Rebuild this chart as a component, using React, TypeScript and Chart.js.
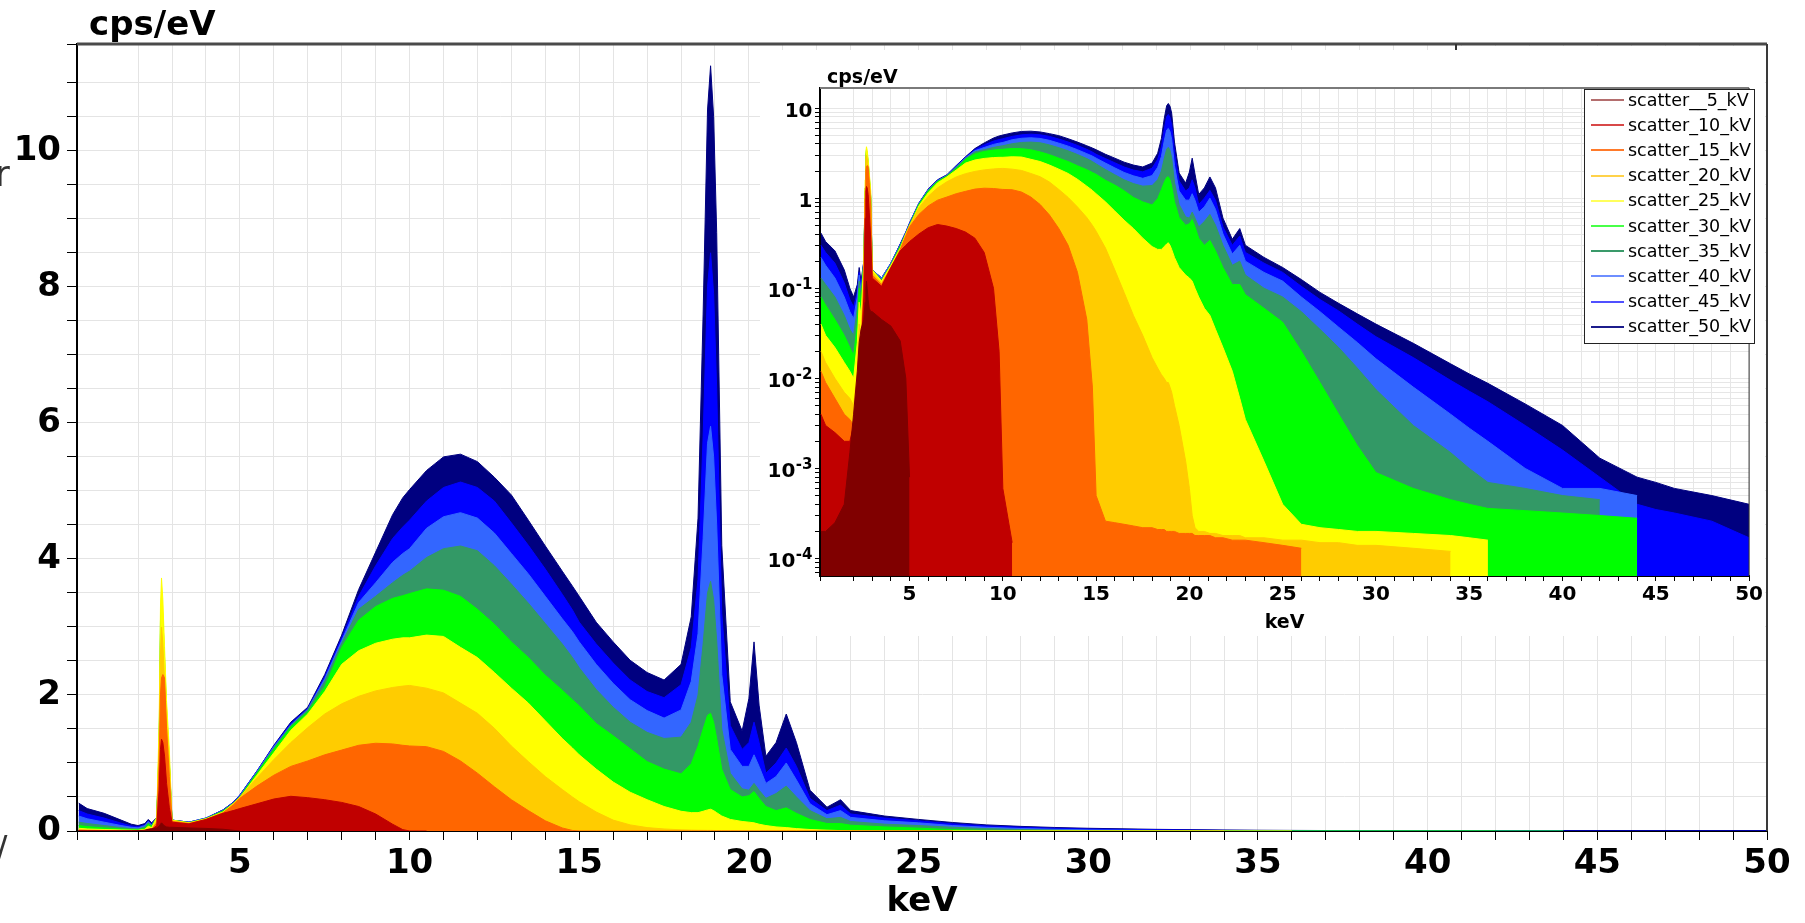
import React, { useEffect, useRef } from "react";
import { Chart, registerables } from "chart.js";

Chart.register(...registerables);

// ---------------- DATA ----------------
const energyKeV = [
  0.25, 0.5, 1.0, 1.5, 1.8, 2.0, 2.2, 2.3, 2.4,
  2.55, 2.62, 2.66, 2.69, 2.73, 2.78, 2.84, 2.92, 3.0,
  3.5, 4.0, 4.5, 4.8, 5.0, 5.5, 6.0, 6.5, 7.0, 7.5, 8.0, 8.5, 9.0, 9.5, 9.8, 10.0,
  10.5, 11.0, 11.5, 12.0, 12.5, 13.0, 13.5, 14.0, 14.5, 14.8, 15.0, 15.5, 16.0, 16.5, 17.0, 17.5,
  18.0, 18.3, 18.5, 18.65, 18.78, 18.87, 18.96, 19.05, 19.2, 19.45, 19.8, 20.0, 20.15, 20.3, 20.5, 20.8,
  21.1, 21.4, 21.8, 22.3, 22.7, 23.0, 24.0, 25.0, 26.0, 27.0, 28.0, 29.0, 30.0, 32.0, 34.0, 35.0,
  36.0, 38.0, 40.0, 42.0, 44.0, 45.0, 46.0, 48.0, 50.0,
];

const scatter50kV = [
  0.41, 0.33, 0.26, 0.16, 0.10, 0.08, 0.11, 0.17, 0.12,
  0.2, 1.0, 2.3, 2.7, 2.45, 1.95, 1.35, 0.8, 0.16,
  0.13, 0.19, 0.31, 0.42, 0.53, 0.88, 1.26, 1.6, 1.82, 2.3, 2.88, 3.55, 4.1, 4.65, 4.9, 5.02,
  5.3, 5.5, 5.54, 5.43, 5.2, 4.94, 4.57, 4.19, 3.82, 3.6, 3.45, 3.07, 2.78, 2.51, 2.33, 2.22,
  2.45, 3.15, 4.6, 7.6, 10.6, 11.25, 10.5, 8.8, 4.2, 1.9, 1.47, 1.95, 2.78, 1.85, 1.1, 1.3,
  1.72, 1.3, 0.6, 0.35, 0.46, 0.3, 0.22, 0.17, 0.125, 0.09, 0.068, 0.052, 0.04, 0.0245, 0.0145, 0.0112,
  0.0088, 0.0052, 0.003, 0.0013, 0.0008, 0.0007, 0.0006, 0.0005, 0.0004,
];

const scatter45kV = [
  0.30, 0.25, 0.19, 0.115, 0.075, 0.062, 0.09, 0.15, 0.1,
  0.2, 1.1, 2.6, 3.0, 2.8, 2.2, 1.5, 0.9, 0.16,
  0.13, 0.19, 0.31, 0.42, 0.53, 0.88, 1.25, 1.58, 1.8, 2.27, 2.84, 3.45, 3.9, 4.3, 4.47, 4.57,
  4.85, 5.05, 5.13, 5.05, 4.85, 4.53, 4.2, 3.85, 3.48, 3.25, 3.07, 2.75, 2.47, 2.22, 2.05, 1.96,
  2.15, 2.7, 3.7, 5.8, 8.0, 8.5, 7.9, 6.5, 3.2, 1.55, 1.2, 1.3, 1.6, 1.3, 0.85, 1.0,
  1.22, 0.95, 0.48, 0.3, 0.38, 0.25, 0.19, 0.15, 0.105, 0.075, 0.056, 0.04, 0.029, 0.017, 0.0095, 0.0072,
  0.0055, 0.003, 0.0016, 0.0008, 0.0004, 0.00035, 0.00032, 0.00026, 0.00017,
];

const scatter40kV = [
  0.22, 0.18, 0.13, 0.08, 0.055, 0.046, 0.08, 0.14, 0.09,
  0.2, 1.15, 2.8, 3.15, 2.9, 2.35, 1.6, 0.95, 0.16,
  0.13, 0.19, 0.3, 0.41, 0.52, 0.87, 1.24, 1.56, 1.79, 2.24, 2.8, 3.36, 3.65, 3.95, 4.08, 4.15,
  4.45, 4.62, 4.68, 4.6, 4.38, 4.08, 3.78, 3.45, 3.12, 2.93, 2.78, 2.45, 2.17, 1.93, 1.77, 1.66,
  1.78, 2.2, 2.9, 4.3, 5.7, 5.95, 5.5, 4.5, 2.3, 1.2, 0.95, 0.95, 1.12, 0.95, 0.7, 0.8,
  1.0, 0.75, 0.4, 0.24, 0.3, 0.2, 0.15, 0.12, 0.08, 0.055, 0.037, 0.025, 0.0165, 0.008, 0.004, 0.0028,
  0.002, 0.001, 0.0006, 0.0006, 0.0005,
];

const scatter35kV = [
  0.13, 0.11, 0.08, 0.05, 0.035, 0.03, 0.06, 0.12, 0.08,
  0.2, 1.2, 2.9, 3.3, 3.0, 2.45, 1.7, 1.0, 0.16,
  0.125, 0.185, 0.3, 0.41, 0.51, 0.86, 1.22, 1.55, 1.78, 2.2, 2.76, 3.26, 3.45, 3.65, 3.76, 3.82,
  4.02, 4.15, 4.19, 4.12, 3.9, 3.63, 3.35, 3.05, 2.75, 2.55, 2.4, 2.08, 1.82, 1.6, 1.45, 1.36,
  1.38, 1.6, 2.0, 2.75, 3.5, 3.67, 3.4, 2.8, 1.5, 0.85, 0.62, 0.6, 0.7, 0.6, 0.48, 0.55,
  0.66, 0.5, 0.3, 0.18, 0.2, 0.14, 0.1, 0.08, 0.055, 0.035, 0.022, 0.013, 0.0075, 0.003, 0.0015, 0.001,
  0.0007, 0.0006, 0.0005, 0.00045,
];

const scatter30kV = [
  0.08, 0.065, 0.045, 0.03, 0.022, 0.018, 0.04, 0.1, 0.07,
  0.2, 1.3, 3.1, 3.45, 3.15, 2.55, 1.8, 1.05, 0.16,
  0.12, 0.18, 0.29, 0.4, 0.5, 0.85, 1.2, 1.53, 1.75, 2.12, 2.7, 3.1, 3.3, 3.42, 3.46, 3.49,
  3.56, 3.54, 3.45, 3.26, 3.04, 2.78, 2.55, 2.29, 2.07, 1.93, 1.84, 1.58, 1.4, 1.21, 1.02, 0.91,
  0.84, 0.99, 1.25, 1.5, 1.7, 1.73, 1.6, 1.36, 0.91, 0.61, 0.5, 0.52, 0.58, 0.48, 0.36, 0.3,
  0.34, 0.26, 0.17, 0.11, 0.11, 0.085, 0.06, 0.042, 0.02, 0.009, 0.004, 0.0018, 0.0009, 0.0006, 0.00045, 0.0004,
  0.00036, 0.00034, 0.00032, 0.0003, 0.00028,
];

const scatter25kV = [
  0.04, 0.03, 0.022, 0.015, 0.012, 0.01, 0.025, 0.07, 0.05,
  0.2, 1.6, 3.3, 3.72, 3.4, 2.7, 1.9, 1.2, 0.16,
  0.12, 0.18, 0.28, 0.4, 0.49, 0.82, 1.15, 1.48, 1.72, 2.05, 2.45, 2.65, 2.76, 2.82, 2.84, 2.84,
  2.88, 2.86, 2.7, 2.55, 2.33, 2.1, 1.88, 1.62, 1.36, 1.22, 1.12, 0.91, 0.72, 0.57, 0.46, 0.36,
  0.29, 0.27, 0.27, 0.29, 0.31, 0.32, 0.3, 0.27, 0.22, 0.17, 0.14, 0.13, 0.12, 0.1, 0.08, 0.06,
  0.05, 0.035, 0.022, 0.012, 0.006, 0.0035, 0.0012, 0.0004, 0.00024, 0.00022, 0.00021, 0.0002, 0.0002, 0.00019, 0.00018, 0.00017,
  0.00016,
];

const scatter20kV = [
  0.02, 0.015, 0.01, 0.007, 0.006, 0.005, 0.012, 0.04, 0.03,
  0.15, 1.3, 2.6, 3.0, 2.75, 2.2, 1.6, 1.0, 0.15,
  0.115, 0.17, 0.26, 0.4, 0.5, 0.78, 1.05, 1.3, 1.52, 1.72, 1.87, 1.98, 2.06, 2.11, 2.13, 2.14,
  2.1, 2.03, 1.88, 1.73, 1.51, 1.25, 1.02, 0.8, 0.61, 0.5, 0.43, 0.28, 0.16, 0.09, 0.05, 0.03,
  0.017, 0.013, 0.011, 0.01, 0.009, 0.009, 0.008, 0.007, 0.005, 0.003, 0.0012, 0.0006, 0.0003, 0.00022, 0.0002, 0.0002,
  0.00019, 0.00019, 0.00018, 0.00018, 0.00018, 0.00017, 0.00017, 0.00016, 0.00016, 0.00015, 0.00015, 0.00014, 0.00014, 0.00013, 0.00012,
];

const scatter15kV = [
  0.012, 0.009, 0.006, 0.004, 0.0035, 0.003, 0.006, 0.02, 0.02,
  0.12, 1.0, 2.0, 2.25, 2.3, 2.25, 1.5, 0.8, 0.14,
  0.11, 0.17, 0.27, 0.38, 0.48, 0.66, 0.82, 0.95, 1.03, 1.12, 1.19, 1.26, 1.29, 1.28, 1.26, 1.25,
  1.24, 1.17, 1.03, 0.85, 0.65, 0.46, 0.3, 0.15, 0.045, 0.008, 0.0005, 0.00026, 0.00025, 0.00024, 0.00023, 0.00022,
  0.00022, 0.00021, 0.00021, 0.00021, 0.0002, 0.0002, 0.0002, 0.0002, 0.0002, 0.00019, 0.00019, 0.00019, 0.00019, 0.00018, 0.00018, 0.00018,
  0.00018, 0.00017, 0.00017, 0.00016, 0.00016, 0.00016, 0.00015, 0.00014, 0.00013,
];

const scatter10kV = [
  0.004, 0.003, 0.0025, 0.002, 0.002, 0.003, 0.008, 0.015, 0.02,
  0.08, 0.6, 1.2, 1.35, 1.3, 1.1, 0.7, 0.35, 0.13,
  0.105, 0.17, 0.26, 0.3, 0.33, 0.4, 0.47, 0.51, 0.49, 0.46, 0.42, 0.36, 0.25, 0.1, 0.02, 0.0006,
  0.00015,
];

const scatter5kV = [
  0.0002, 0.0002, 0.00025, 0.0004, 0.0015, 0.004, 0.012, 0.025, 0.035,
  0.045, 0.07, 0.1, 0.12, 0.1, 0.075, 0.06, 0.055, 0.055,
  0.045, 0.038, 0.026, 0.01, 0.0008,
];

const seriesValues = [
  scatter5kV, scatter10kV, scatter15kV, scatter20kV, scatter25kV,
  scatter30kV, scatter35kV, scatter40kV, scatter45kV, scatter50kV,
];
const seriesLabels = [
  "scatter__5_kV", "scatter_10_kV", "scatter_15_kV", "scatter_20_kV", "scatter_25_kV",
  "scatter_30_kV", "scatter_35_kV", "scatter_40_kV", "scatter_45_kV", "scatter_50_kV",
];
const seriesColors = [
  "#800000", "#C00000", "#FF6600", "#FFCC00", "#FFFF00",
  "#00FF00", "#339966", "#3366FF", "#0000FF", "#000080",
];
const legendLineColors = [
  "#b46e6e", "#d84848", "#ff7a2a", "#ffd24a", "#ffff5c",
  "#48ff48", "#3a9a6a", "#6e8eff", "#5050ff", "#1c1c8c",
];

const mainYLabelled = [0, 2, 4, 6, 8, 10];
const xLabelled = [5, 10, 15, 20, 25, 30, 35, 40, 45, 50];
const insetDecadeValues = [10, 1, 0.1, 0.01, 0.001, 0.0001];
const insetDecadeBase = ["10", "1", "10", "10", "10", "10"];
const insetDecadeExp = ["", "", "-1", "-2", "-3", "-4"];
const unitText = "cps/eV";
const axisText = "keV";

const FONT = "'DejaVu Sans', Verdana, sans-serif";

// ---------------- helpers / plugins ----------------
function makeDatasets(forLog: boolean) {
  return seriesValues.map((vals, i) => ({
    label: seriesLabels[i],
    data: vals.map((y, j) => ({ x: energyKeV[j], y })),
    borderColor: seriesColors[i],
    backgroundColor: seriesColors[i],
    borderWidth: 1,
    pointRadius: 0,
    tension: 0,
    fill: forLog ? "start" : "origin",
  }));
}

const framePlugin = {
  id: "frame",
  afterDraw(chart: any, _args: any, opts: any) {
    const { ctx, chartArea: a } = chart;
    ctx.save();
    ctx.strokeStyle = opts.color;
    ctx.lineWidth = opts.width;
    ctx.beginPath();
    ctx.moveTo(a.left, a.top);
    ctx.lineTo(a.right, a.top);
    ctx.stroke();
    ctx.strokeStyle = opts.rightColor || opts.color;
    ctx.lineWidth = opts.rightWidth || opts.width;
    ctx.beginPath();
    ctx.moveTo(a.right, a.top);
    ctx.lineTo(a.right, a.bottom);
    ctx.stroke();
    ctx.fillStyle = "#000";
    ctx.font = opts.unitFont;
    ctx.textAlign = "left";
    ctx.textBaseline = "alphabetic";
    ctx.fillText(unitText, a.left + opts.unitDx, a.top - opts.unitDy);
    ctx.restore();
  },
};

const decadeLabelPlugin = {
  id: "decadeLabels",
  afterDraw(chart: any) {
    const ys = chart.scales.y;
    const ctx = chart.ctx;
    const right = chart.chartArea.left - 7.5;
    ctx.save();
    ctx.fillStyle = "#000";
    ctx.textAlign = "right";
    ctx.textBaseline = "alphabetic";
    insetDecadeValues.forEach((v, i) => {
      const py = ys.getPixelForValue(v);
      let x = right;
      if (insetDecadeExp[i]) {
        ctx.font = `bold 15px ${FONT}`;
        ctx.fillText(insetDecadeExp[i], x, py + 0.5);
        x -= ctx.measureText(insetDecadeExp[i]).width + 0.5;
      }
      ctx.font = `bold 20px ${FONT}`;
      ctx.fillText(insetDecadeBase[i], x, py + 8.5);
    });
    ctx.restore();
  },
};

function isIn(list: number[], v: number) {
  return list.some((t) => Math.abs(t - v) < 1e-9);
}

export default function App() {
  const mainRef = useRef<HTMLCanvasElement | null>(null);
  const insetRef = useRef<HTMLCanvasElement | null>(null);

  useEffect(() => {
    const bigFont = { family: FONT, size: 34, weight: "bold" as const };
    const smallFont = { family: FONT, size: 20, weight: "bold" as const };

    const main = new Chart(mainRef.current as HTMLCanvasElement, {
      type: "line",
      data: { datasets: makeDatasets(false) as any },
      options: {
        animation: false,
        responsive: false,
        events: [],
        layout: { padding: { left: 0, right: 38, top: 44, bottom: 0 } },
        plugins: {
          legend: { display: false },
          tooltip: { enabled: false },
          frame: { color: "#4a4a4a", width: 3, rightColor: "#3a3a3a", rightWidth: 2, unitFont: `bold 34px ${FONT}`, unitDx: 12, unitDy: 9 },
        } as any,
        scales: {
          x: {
            type: "linear",
            min: 0.2,
            max: 50,
            afterFit: (s: any) => { s.height = 92; },
            ticks: {
              stepSize: 1,
              autoSkip: false,
              maxRotation: 0,
              padding: 4,
              color: "#000",
              font: bigFont,
              callback: (v: any) => (isIn(xLabelled, Number(v)) ? String(v) : ""),
            },
            grid: { color: "#e4e4e4", lineWidth: 1, tickColor: "#000", tickLength: 9 },
            border: { color: "#000", width: 2 },
            title: { display: true, text: axisText, color: "#000", font: bigFont, padding: { top: 0, bottom: 0 } },
          },
          y: {
            type: "linear",
            min: 0,
            max: 11.57,
            afterFit: (s: any) => { s.width = 77; },
            ticks: {
              stepSize: 0.5,
              autoSkip: false,
              padding: 6,
              color: "#000",
              font: bigFont,
              callback: (v: any) => (isIn(mainYLabelled, Number(v)) ? String(v) : ""),
            },
            grid: { color: "#e4e4e4", lineWidth: 1, tickColor: "#000", tickLength: 10 },
            border: { color: "#000", width: 2 },
          },
        },
      } as any,
      plugins: [framePlugin],
    });

    const inset = new Chart(insetRef.current as HTMLCanvasElement, {
      type: "line",
      data: { datasets: makeDatasets(true) as any },
      options: {
        animation: false,
        responsive: false,
        events: [],
        layout: { padding: { left: 0, right: 12, top: 38, bottom: 0 } },
        plugins: {
          legend: { display: false },
          tooltip: { enabled: false },
          frame: { color: "#7a7a7a", width: 2, rightColor: "#333", rightWidth: 1, unitFont: `bold 19px ${FONT}`, unitDx: 7, unitDy: 5 },
        } as any,
        scales: {
          x: {
            type: "linear",
            min: 0.2,
            max: 50,
            afterFit: (s: any) => { s.height = 60; },
            ticks: {
              stepSize: 1,
              autoSkip: false,
              maxRotation: 0,
              padding: 2,
              color: "#000",
              font: smallFont,
              callback: (v: any) => (isIn(xLabelled, Number(v)) ? String(v) : ""),
            },
            grid: { color: "#e6e6e6", lineWidth: 1, tickColor: "#000", tickLength: 5 },
            border: { color: "#000", width: 2 },
            title: { display: true, text: axisText, color: "#000", font: { family: FONT, size: 19, weight: "bold" }, padding: { top: 0, bottom: 2 } },
          },
          y: {
            type: "logarithmic",
            min: 6.4e-5,
            max: 16.7,
            afterFit: (s: any) => { s.width = 60; },
            afterBuildTicks: (s: any) => {
              const t: any[] = [];
              for (let e = -5; e <= 1; e++) {
                for (let k = 1; k <= 9; k++) {
                  const v = k * Math.pow(10, e);
                  if (v >= s.min && v <= s.max) t.push({ value: v });
                }
              }
              s.ticks = t;
            },
            ticks: { autoSkip: false, color: "#000", font: smallFont, callback: () => "" },
            grid: { color: "#e6e6e6", lineWidth: 1, tickColor: "#000", tickLength: 5 },
            border: { color: "#000", width: 2 },
          },
        },
      } as any,
      plugins: [framePlugin, decadeLabelPlugin],
    });

    return () => {
      main.destroy();
      inset.destroy();
    };
  }, []);

  return (
    <div style={{ position: "absolute", left: 0, top: 0, width: 1805, height: 923, overflow: "hidden", background: "#fff" }}>
      <canvas ref={mainRef} width={1805} height={923} style={{ position: "absolute", left: 0, top: 0, width: 1805, height: 923 }} />
      <span style={{ position: "absolute", left: -5, top: 156, fontFamily: FONT, fontSize: 36, lineHeight: "36px", color: "#333" }}>r</span>
      <span style={{ position: "absolute", left: -4, top: 831, fontFamily: FONT, fontSize: 34, lineHeight: "34px", color: "#333" }}>/</span>
      <div style={{ position: "absolute", left: 1456, top: 46, width: 309, height: 4, background: "#fff" }} />
      <div style={{ position: "absolute", left: 1455, top: 44, width: 2, height: 7, background: "#333" }} />
      <div style={{ position: "absolute", left: 760, top: 50, width: 1005, height: 586, background: "#fff" }}>
        <canvas ref={insetRef} width={1005} height={586} style={{ position: "absolute", left: 0, top: 0, width: 1005, height: 586 }} />
      </div>
      <div style={{ position: "absolute", left: 1584, top: 89, width: 169, height: 253, border: "1px solid #222", background: "#fff" }}>
        {seriesLabels.map((lab, i) => (
          <div key={lab} style={{ position: "absolute", left: 0, top: -2.5 + i * 25.2, width: 169, height: 25 }}>
            <div style={{ position: "absolute", left: 5.5, top: 11.5, width: 33, height: 2, background: legendLineColors[i] }} />
            <span style={{ position: "absolute", left: 43, top: 0, lineHeight: "25px", fontFamily: FONT, fontSize: 17.5, color: "#000", whiteSpace: "nowrap" }}>{lab}</span>
          </div>
        ))}
      </div>
    </div>
  );
}
